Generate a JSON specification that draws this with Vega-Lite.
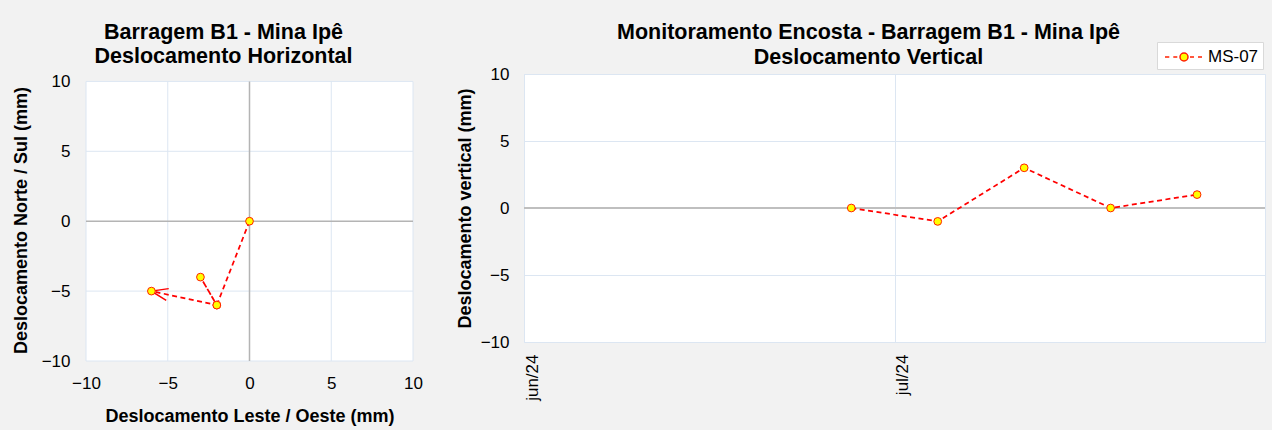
{
  "$schema": "https://vega.github.io/schema/vega-lite/v6.json",
  "background": "#f2f2f2",
  "padding": {"left": 12, "top": 21, "right": 5, "bottom": 5},
  "spacing": 33,
  "config": {
    "font": "Liberation Sans",
    "view": {"stroke": null},
    "axis": {
      "labelFont": "Liberation Sans", "labelFontSize": 17, "labelColor": "#000000",
      "titleFont": "Liberation Sans", "titleFontSize": 18, "titleFontWeight": "bold", "titleColor": "#000000",
      "domain": false, "ticks": false, "labelFlush": false, "labelOverlap": false, "grid": false
    },
    "title": {"font": "Liberation Sans", "fontSize": 21.5, "fontWeight": "bold", "color": "#000000", "anchor": "middle", "frame": "group", "dx": -26}
  },
  "hconcat": [
    {
      "width": 327,
      "height": 287,
      "title": {"text": ["Barragem B1 - Mina Ipê", "Deslocamento Horizontal"], "lineHeight": 24, "offset": 5},
      "data": {"values": [
        {"order": 1, "E": 0, "N": 0},
        {"order": 2, "E": -2, "N": -6},
        {"order": 3, "E": -3, "N": -4},
        {"order": 4, "E": -2, "N": -6},
        {"order": 5, "E": -6, "N": -5}
      ]},
      "layer": [
        {
          "data": {"values": [{}]},
          "mark": {"type": "rect", "fill": "#ffffff", "stroke": "#dce6f2", "strokeWidth": 1},
          "encoding": {
            "x": {"datum": -10, "type": "quantitative"}, "x2": {"datum": 10},
            "y": {"datum": -10, "type": "quantitative"}, "y2": {"datum": 10}
          }
        },
        {
          "data": {"values": [{}]},
          "mark": {"type": "rule", "color": "#dce6f2", "strokeWidth": 1},
          "encoding": {"x": {"datum": -5, "type": "quantitative"}, "y": {"datum": -10, "type": "quantitative"}, "y2": {"datum": 10}}
        },
        {
          "data": {"values": [{}]},
          "mark": {"type": "rule", "color": "#dce6f2", "strokeWidth": 1},
          "encoding": {"x": {"datum": 5, "type": "quantitative"}, "y": {"datum": -10, "type": "quantitative"}, "y2": {"datum": 10}}
        },
        {
          "data": {"values": [{}]},
          "mark": {"type": "rule", "color": "#dce6f2", "strokeWidth": 1},
          "encoding": {"y": {"datum": 5, "type": "quantitative"}, "x": {"datum": -10, "type": "quantitative"}, "x2": {"datum": 10}}
        },
        {
          "data": {"values": [{}]},
          "mark": {"type": "rule", "color": "#dce6f2", "strokeWidth": 1},
          "encoding": {"y": {"datum": -5, "type": "quantitative"}, "x": {"datum": -10, "type": "quantitative"}, "x2": {"datum": 10}}
        },
        {
          "data": {"values": [{}]},
          "mark": {"type": "rule", "color": "#b4b4b4", "strokeWidth": 1.5},
          "encoding": {"x": {"datum": 0, "type": "quantitative"}, "y": {"datum": -10, "type": "quantitative"}, "y2": {"datum": 10}}
        },
        {
          "data": {"values": [{}]},
          "mark": {"type": "rule", "color": "#b4b4b4", "strokeWidth": 1.5},
          "encoding": {"y": {"datum": 0, "type": "quantitative"}, "x": {"datum": -10, "type": "quantitative"}, "x2": {"datum": 10}}
        },
        {
          "mark": {"type": "line", "color": "#ff0000", "strokeWidth": 1.75, "strokeDash": [5, 3.5]},
          "encoding": {
            "x": {"field": "E", "type": "quantitative", "scale": {"domain": [-10, 10], "nice": false},
                  "axis": {"values": [-10, -5, 0, 5, 10], "grid": false, "labelPadding": 14, "title": "Deslocamento Leste / Oeste (mm)", "titlePadding": 16}},
            "y": {"field": "N", "type": "quantitative", "scale": {"domain": [-10, 10.53], "nice": false},
                  "axis": {"values": [-10, -5, 0, 5, 10], "grid": false, "labelPadding": 16, "title": "Deslocamento Norte / Sul (mm)", "titlePadding": 11, "titleY": 146}},
            "order": {"field": "order", "type": "quantitative"}
          }
        },
        {
          "transform": [{"filter": "datum.order == 5"}],
          "mark": {"type": "point", "shape": "M1.5,-0.55L0,0L1.5,0.55", "size": 480, "angle": 12, "filled": false, "stroke": "#ff0000", "strokeWidth": 1.5, "opacity": 1},
          "encoding": {
            "x": {"field": "E", "type": "quantitative"},
            "y": {"field": "N", "type": "quantitative"}
          }
        },
        {
          "mark": {"type": "point", "shape": "circle", "filled": true, "fill": "#ffff00", "stroke": "#ff2000", "strokeWidth": 1, "size": 60, "opacity": 1},
          "encoding": {
            "x": {"field": "E", "type": "quantitative"},
            "y": {"field": "N", "type": "quantitative"}
          }
        }
      ]
    },
    {
      "width": 741,
      "height": 268,
      "view": {"fill": "#ffffff", "stroke": "#dce6f2"},
      "title": {"text": ["Monitoramento Encosta - Barragem B1 - Mina Ipê", "Deslocamento Vertical"], "lineHeight": 25, "offset": -3.5},
      "data": {"values": [
        {"date": "2024-06-27T12:00:00", "v": 0, "series": "MS-07"},
        {"date": "2024-07-04T12:00:00", "v": -1, "series": "MS-07"},
        {"date": "2024-07-11T12:00:00", "v": 3, "series": "MS-07"},
        {"date": "2024-07-18T12:00:00", "v": 0, "series": "MS-07"},
        {"date": "2024-07-25T12:00:00", "v": 1, "series": "MS-07"}
      ]},
      "layer": [
        {
          "data": {"values": [{}]},
          "mark": {"type": "rule", "color": "#bfbfbf", "strokeWidth": 2},
          "encoding": {"y": {"datum": 0, "type": "quantitative"}}
        },
        {
          "mark": {"type": "line", "color": "#ff0000", "strokeWidth": 1.75, "strokeDash": [5, 3.5]},
          "encoding": {
            "x": {"field": "date", "type": "temporal",
                  "scale": {"domain": [{"year": 2024, "month": 6, "date": 1}, {"year": 2024, "month": 7, "date": 31}], "nice": false},
                  "axis": {"title": null, "grid": true, "gridColor": "#dce6f2", "tickCount": {"interval": "month", "step": 1},
                           "labelExpr": "lower(timeFormat(datum.value, '%b/%y'))", "labelAngle": 270, "labelAlign": "right", "labelBaseline": "top", "labelPadding": 12}},
            "y": {"field": "v", "type": "quantitative", "scale": {"domain": [-10, 10], "nice": false},
                  "axis": {"values": [-10, -5, 0, 5, 10], "grid": true, "gridColor": "#dce6f2", "labelPadding": 15, "title": "Deslocamento vertical (mm)", "titlePadding": 5.5}}
          }
        },
        {
          "mark": {"type": "point", "shape": "circle", "filled": true, "fill": "#ffff00", "strokeWidth": 1, "size": 60, "opacity": 1},
          "encoding": {
            "x": {"field": "date", "type": "temporal"},
            "y": {"field": "v", "type": "quantitative"},
            "stroke": {"field": "series", "type": "nominal", "scale": {"range": ["#ff2000"]},
                       "legend": {"title": null, "orient": "none", "legendX": 1071, "legendY": -32,
                                  "symbolType": "M-0.7,0H-0.27M0.13,0H0.53M1.8,0H2.2M2.6,0H3M0.8,0A0.4,0.4,0,1,1,1.6,0A0.4,0.4,0,1,1,0.8,0Z",
                                  "symbolSize": 400, "symbolStrokeWidth": 1.5, "labelFontSize": 17, "labelFont": "Liberation Sans", "labelColor": "#000000",
                                  "labelOffset": 25, "padding": 4, "fillColor": "#ffffff", "strokeColor": "#d9d9d9",
                                  "encode": {"symbols": {"update": {"fill": {"value": "#ffff00"}, "stroke": {"value": "#ff0000"}, "opacity": {"value": 1}}}}}}
          }
        }
      ]
    }
  ]
}
